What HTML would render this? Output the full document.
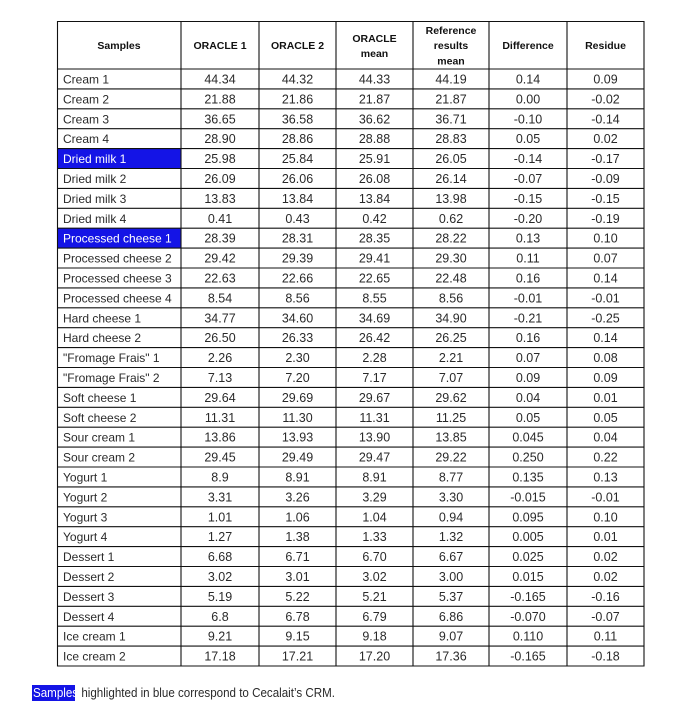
<!DOCTYPE html>
<html><head><meta charset="utf-8"><style>
html,body{margin:0;padding:0;background:#fff;}
svg{display:block;}
text{font-family:"Liberation Sans",sans-serif;fill:#2a2a2a;}
.b{font-size:12px;}
.n{font-size:12.5px;text-anchor:middle;}
.h{font-size:10.5px;font-weight:bold;text-anchor:middle;fill:#111;}
.w{fill:#fff;}
</style></head><body>
<svg width="682" height="720" viewBox="0 0 682 720" xmlns="http://www.w3.org/2000/svg">
<rect width="682" height="720" fill="#fff"/>
<rect x="57" y="148.6" width="124" height="19.9" fill="#1414e6"/>
<rect x="57" y="228.2" width="124" height="19.9" fill="#1414e6"/>
<text class="h" x="119" y="49">Samples</text>
<text class="h" x="220" y="49">ORACLE 1</text>
<text class="h" x="297.5" y="49">ORACLE 2</text>
<text class="h" x="374.5" y="42">ORACLE</text>
<text class="h" x="374.5" y="57">mean</text>
<text class="h" x="451" y="34">Reference</text>
<text class="h" x="451" y="49">results</text>
<text class="h" x="451" y="64.5">mean</text>
<text class="h" x="528" y="49">Difference</text>
<text class="h" x="605.5" y="49">Residue</text>
<g transform="translate(0,69)"><text class="b" x="63" y="14.5">Cream 1</text><text class="n" x="220" y="14.5">44.34</text><text class="n" x="297.5" y="14.5">44.32</text><text class="n" x="374.5" y="14.5">44.33</text><text class="n" x="451" y="14.5">44.19</text><text class="n" x="528" y="14.5">0.14</text><text class="n" x="605.5" y="14.5">0.09</text></g>
<g transform="translate(0,88.9)"><text class="b" x="63" y="14.5">Cream 2</text><text class="n" x="220" y="14.5">21.88</text><text class="n" x="297.5" y="14.5">21.86</text><text class="n" x="374.5" y="14.5">21.87</text><text class="n" x="451" y="14.5">21.87</text><text class="n" x="528" y="14.5">0.00</text><text class="n" x="605.5" y="14.5">-0.02</text></g>
<g transform="translate(0,108.8)"><text class="b" x="63" y="14.5">Cream 3</text><text class="n" x="220" y="14.5">36.65</text><text class="n" x="297.5" y="14.5">36.58</text><text class="n" x="374.5" y="14.5">36.62</text><text class="n" x="451" y="14.5">36.71</text><text class="n" x="528" y="14.5">-0.10</text><text class="n" x="605.5" y="14.5">-0.14</text></g>
<g transform="translate(0,128.7)"><text class="b" x="63" y="14.5">Cream 4</text><text class="n" x="220" y="14.5">28.90</text><text class="n" x="297.5" y="14.5">28.86</text><text class="n" x="374.5" y="14.5">28.88</text><text class="n" x="451" y="14.5">28.83</text><text class="n" x="528" y="14.5">0.05</text><text class="n" x="605.5" y="14.5">0.02</text></g>
<g transform="translate(0,148.6)"><text class="b w" x="63" y="14.5">Dried milk 1</text><text class="n" x="220" y="14.5">25.98</text><text class="n" x="297.5" y="14.5">25.84</text><text class="n" x="374.5" y="14.5">25.91</text><text class="n" x="451" y="14.5">26.05</text><text class="n" x="528" y="14.5">-0.14</text><text class="n" x="605.5" y="14.5">-0.17</text></g>
<g transform="translate(0,168.5)"><text class="b" x="63" y="14.5">Dried milk 2</text><text class="n" x="220" y="14.5">26.09</text><text class="n" x="297.5" y="14.5">26.06</text><text class="n" x="374.5" y="14.5">26.08</text><text class="n" x="451" y="14.5">26.14</text><text class="n" x="528" y="14.5">-0.07</text><text class="n" x="605.5" y="14.5">-0.09</text></g>
<g transform="translate(0,188.4)"><text class="b" x="63" y="14.5">Dried milk 3</text><text class="n" x="220" y="14.5">13.83</text><text class="n" x="297.5" y="14.5">13.84</text><text class="n" x="374.5" y="14.5">13.84</text><text class="n" x="451" y="14.5">13.98</text><text class="n" x="528" y="14.5">-0.15</text><text class="n" x="605.5" y="14.5">-0.15</text></g>
<g transform="translate(0,208.3)"><text class="b" x="63" y="14.5">Dried milk 4</text><text class="n" x="220" y="14.5">0.41</text><text class="n" x="297.5" y="14.5">0.43</text><text class="n" x="374.5" y="14.5">0.42</text><text class="n" x="451" y="14.5">0.62</text><text class="n" x="528" y="14.5">-0.20</text><text class="n" x="605.5" y="14.5">-0.19</text></g>
<g transform="translate(0,228.2)"><text class="b w" x="63" y="14.5">Processed cheese 1</text><text class="n" x="220" y="14.5">28.39</text><text class="n" x="297.5" y="14.5">28.31</text><text class="n" x="374.5" y="14.5">28.35</text><text class="n" x="451" y="14.5">28.22</text><text class="n" x="528" y="14.5">0.13</text><text class="n" x="605.5" y="14.5">0.10</text></g>
<g transform="translate(0,248.1)"><text class="b" x="63" y="14.5">Processed cheese 2</text><text class="n" x="220" y="14.5">29.42</text><text class="n" x="297.5" y="14.5">29.39</text><text class="n" x="374.5" y="14.5">29.41</text><text class="n" x="451" y="14.5">29.30</text><text class="n" x="528" y="14.5">0.11</text><text class="n" x="605.5" y="14.5">0.07</text></g>
<g transform="translate(0,268)"><text class="b" x="63" y="14.5">Processed cheese 3</text><text class="n" x="220" y="14.5">22.63</text><text class="n" x="297.5" y="14.5">22.66</text><text class="n" x="374.5" y="14.5">22.65</text><text class="n" x="451" y="14.5">22.48</text><text class="n" x="528" y="14.5">0.16</text><text class="n" x="605.5" y="14.5">0.14</text></g>
<g transform="translate(0,287.9)"><text class="b" x="63" y="14.5">Processed cheese 4</text><text class="n" x="220" y="14.5">8.54</text><text class="n" x="297.5" y="14.5">8.56</text><text class="n" x="374.5" y="14.5">8.55</text><text class="n" x="451" y="14.5">8.56</text><text class="n" x="528" y="14.5">-0.01</text><text class="n" x="605.5" y="14.5">-0.01</text></g>
<g transform="translate(0,307.8)"><text class="b" x="63" y="14.5">Hard cheese 1</text><text class="n" x="220" y="14.5">34.77</text><text class="n" x="297.5" y="14.5">34.60</text><text class="n" x="374.5" y="14.5">34.69</text><text class="n" x="451" y="14.5">34.90</text><text class="n" x="528" y="14.5">-0.21</text><text class="n" x="605.5" y="14.5">-0.25</text></g>
<g transform="translate(0,327.7)"><text class="b" x="63" y="14.5">Hard cheese 2</text><text class="n" x="220" y="14.5">26.50</text><text class="n" x="297.5" y="14.5">26.33</text><text class="n" x="374.5" y="14.5">26.42</text><text class="n" x="451" y="14.5">26.25</text><text class="n" x="528" y="14.5">0.16</text><text class="n" x="605.5" y="14.5">0.14</text></g>
<g transform="translate(0,347.6)"><text class="b" x="63" y="14.5">"Fromage Frais" 1</text><text class="n" x="220" y="14.5">2.26</text><text class="n" x="297.5" y="14.5">2.30</text><text class="n" x="374.5" y="14.5">2.28</text><text class="n" x="451" y="14.5">2.21</text><text class="n" x="528" y="14.5">0.07</text><text class="n" x="605.5" y="14.5">0.08</text></g>
<g transform="translate(0,367.5)"><text class="b" x="63" y="14.5">"Fromage Frais" 2</text><text class="n" x="220" y="14.5">7.13</text><text class="n" x="297.5" y="14.5">7.20</text><text class="n" x="374.5" y="14.5">7.17</text><text class="n" x="451" y="14.5">7.07</text><text class="n" x="528" y="14.5">0.09</text><text class="n" x="605.5" y="14.5">0.09</text></g>
<g transform="translate(0,387.4)"><text class="b" x="63" y="14.5">Soft cheese 1</text><text class="n" x="220" y="14.5">29.64</text><text class="n" x="297.5" y="14.5">29.69</text><text class="n" x="374.5" y="14.5">29.67</text><text class="n" x="451" y="14.5">29.62</text><text class="n" x="528" y="14.5">0.04</text><text class="n" x="605.5" y="14.5">0.01</text></g>
<g transform="translate(0,407.3)"><text class="b" x="63" y="14.5">Soft cheese 2</text><text class="n" x="220" y="14.5">11.31</text><text class="n" x="297.5" y="14.5">11.30</text><text class="n" x="374.5" y="14.5">11.31</text><text class="n" x="451" y="14.5">11.25</text><text class="n" x="528" y="14.5">0.05</text><text class="n" x="605.5" y="14.5">0.05</text></g>
<g transform="translate(0,427.2)"><text class="b" x="63" y="14.5">Sour cream 1</text><text class="n" x="220" y="14.5">13.86</text><text class="n" x="297.5" y="14.5">13.93</text><text class="n" x="374.5" y="14.5">13.90</text><text class="n" x="451" y="14.5">13.85</text><text class="n" x="528" y="14.5">0.045</text><text class="n" x="605.5" y="14.5">0.04</text></g>
<g transform="translate(0,447.1)"><text class="b" x="63" y="14.5">Sour cream 2</text><text class="n" x="220" y="14.5">29.45</text><text class="n" x="297.5" y="14.5">29.49</text><text class="n" x="374.5" y="14.5">29.47</text><text class="n" x="451" y="14.5">29.22</text><text class="n" x="528" y="14.5">0.250</text><text class="n" x="605.5" y="14.5">0.22</text></g>
<g transform="translate(0,467)"><text class="b" x="63" y="14.5">Yogurt 1</text><text class="n" x="220" y="14.5">8.9</text><text class="n" x="297.5" y="14.5">8.91</text><text class="n" x="374.5" y="14.5">8.91</text><text class="n" x="451" y="14.5">8.77</text><text class="n" x="528" y="14.5">0.135</text><text class="n" x="605.5" y="14.5">0.13</text></g>
<g transform="translate(0,486.9)"><text class="b" x="63" y="14.5">Yogurt 2</text><text class="n" x="220" y="14.5">3.31</text><text class="n" x="297.5" y="14.5">3.26</text><text class="n" x="374.5" y="14.5">3.29</text><text class="n" x="451" y="14.5">3.30</text><text class="n" x="528" y="14.5">-0.015</text><text class="n" x="605.5" y="14.5">-0.01</text></g>
<g transform="translate(0,506.8)"><text class="b" x="63" y="14.5">Yogurt 3</text><text class="n" x="220" y="14.5">1.01</text><text class="n" x="297.5" y="14.5">1.06</text><text class="n" x="374.5" y="14.5">1.04</text><text class="n" x="451" y="14.5">0.94</text><text class="n" x="528" y="14.5">0.095</text><text class="n" x="605.5" y="14.5">0.10</text></g>
<g transform="translate(0,526.7)"><text class="b" x="63" y="14.5">Yogurt 4</text><text class="n" x="220" y="14.5">1.27</text><text class="n" x="297.5" y="14.5">1.38</text><text class="n" x="374.5" y="14.5">1.33</text><text class="n" x="451" y="14.5">1.32</text><text class="n" x="528" y="14.5">0.005</text><text class="n" x="605.5" y="14.5">0.01</text></g>
<g transform="translate(0,546.6)"><text class="b" x="63" y="14.5">Dessert 1</text><text class="n" x="220" y="14.5">6.68</text><text class="n" x="297.5" y="14.5">6.71</text><text class="n" x="374.5" y="14.5">6.70</text><text class="n" x="451" y="14.5">6.67</text><text class="n" x="528" y="14.5">0.025</text><text class="n" x="605.5" y="14.5">0.02</text></g>
<g transform="translate(0,566.5)"><text class="b" x="63" y="14.5">Dessert 2</text><text class="n" x="220" y="14.5">3.02</text><text class="n" x="297.5" y="14.5">3.01</text><text class="n" x="374.5" y="14.5">3.02</text><text class="n" x="451" y="14.5">3.00</text><text class="n" x="528" y="14.5">0.015</text><text class="n" x="605.5" y="14.5">0.02</text></g>
<g transform="translate(0,586.4)"><text class="b" x="63" y="14.5">Dessert 3</text><text class="n" x="220" y="14.5">5.19</text><text class="n" x="297.5" y="14.5">5.22</text><text class="n" x="374.5" y="14.5">5.21</text><text class="n" x="451" y="14.5">5.37</text><text class="n" x="528" y="14.5">-0.165</text><text class="n" x="605.5" y="14.5">-0.16</text></g>
<g transform="translate(0,606.3)"><text class="b" x="63" y="14.5">Dessert 4</text><text class="n" x="220" y="14.5">6.8</text><text class="n" x="297.5" y="14.5">6.78</text><text class="n" x="374.5" y="14.5">6.79</text><text class="n" x="451" y="14.5">6.86</text><text class="n" x="528" y="14.5">-0.070</text><text class="n" x="605.5" y="14.5">-0.07</text></g>
<g transform="translate(0,626.2)"><text class="b" x="63" y="14.5">Ice cream 1</text><text class="n" x="220" y="14.5">9.21</text><text class="n" x="297.5" y="14.5">9.15</text><text class="n" x="374.5" y="14.5">9.18</text><text class="n" x="451" y="14.5">9.07</text><text class="n" x="528" y="14.5">0.110</text><text class="n" x="605.5" y="14.5">0.11</text></g>
<g transform="translate(0,646.1)"><text class="b" x="63" y="14.5">Ice cream 2</text><text class="n" x="220" y="14.5">17.18</text><text class="n" x="297.5" y="14.5">17.21</text><text class="n" x="374.5" y="14.5">17.20</text><text class="n" x="451" y="14.5">17.36</text><text class="n" x="528" y="14.5">-0.165</text><text class="n" x="605.5" y="14.5">-0.18</text></g>
<g stroke="#111" stroke-width="1.1" fill="none">
<line x1="57" y1="21.5" x2="644" y2="21.5"/>
<line x1="57" y1="69" x2="644" y2="69"/>
<line x1="57" y1="88.9" x2="644" y2="88.9"/>
<line x1="57" y1="108.8" x2="644" y2="108.8"/>
<line x1="57" y1="128.7" x2="644" y2="128.7"/>
<line x1="57" y1="148.6" x2="644" y2="148.6"/>
<line x1="57" y1="168.5" x2="644" y2="168.5"/>
<line x1="57" y1="188.4" x2="644" y2="188.4"/>
<line x1="57" y1="208.3" x2="644" y2="208.3"/>
<line x1="57" y1="228.2" x2="644" y2="228.2"/>
<line x1="57" y1="248.1" x2="644" y2="248.1"/>
<line x1="57" y1="268" x2="644" y2="268"/>
<line x1="57" y1="287.9" x2="644" y2="287.9"/>
<line x1="57" y1="307.8" x2="644" y2="307.8"/>
<line x1="57" y1="327.7" x2="644" y2="327.7"/>
<line x1="57" y1="347.6" x2="644" y2="347.6"/>
<line x1="57" y1="367.5" x2="644" y2="367.5"/>
<line x1="57" y1="387.4" x2="644" y2="387.4"/>
<line x1="57" y1="407.3" x2="644" y2="407.3"/>
<line x1="57" y1="427.2" x2="644" y2="427.2"/>
<line x1="57" y1="447.1" x2="644" y2="447.1"/>
<line x1="57" y1="467" x2="644" y2="467"/>
<line x1="57" y1="486.9" x2="644" y2="486.9"/>
<line x1="57" y1="506.8" x2="644" y2="506.8"/>
<line x1="57" y1="526.7" x2="644" y2="526.7"/>
<line x1="57" y1="546.6" x2="644" y2="546.6"/>
<line x1="57" y1="566.5" x2="644" y2="566.5"/>
<line x1="57" y1="586.4" x2="644" y2="586.4"/>
<line x1="57" y1="606.3" x2="644" y2="606.3"/>
<line x1="57" y1="626.2" x2="644" y2="626.2"/>
<line x1="57" y1="646.1" x2="644" y2="646.1"/>
<line x1="57" y1="666" x2="644" y2="666"/>
<line x1="57.5" y1="21" x2="57.5" y2="666.5"/>
<line x1="181" y1="21" x2="181" y2="666.5"/>
<line x1="259" y1="21" x2="259" y2="666.5"/>
<line x1="336" y1="21" x2="336" y2="666.5"/>
<line x1="413" y1="21" x2="413" y2="666.5"/>
<line x1="489" y1="21" x2="489" y2="666.5"/>
<line x1="567" y1="21" x2="567" y2="666.5"/>
<line x1="644" y1="21" x2="644" y2="666.5"/>
</g>
<rect x="32" y="685" width="43" height="16" fill="#1414e6"/>
<text x="33" y="697" font-size="12.5" textLength="302" lengthAdjust="spacingAndGlyphs"><tspan fill="#fff">Samples</tspan> highlighted in blue correspond to Cecalait’s CRM.</text>
</svg>
</body></html>
